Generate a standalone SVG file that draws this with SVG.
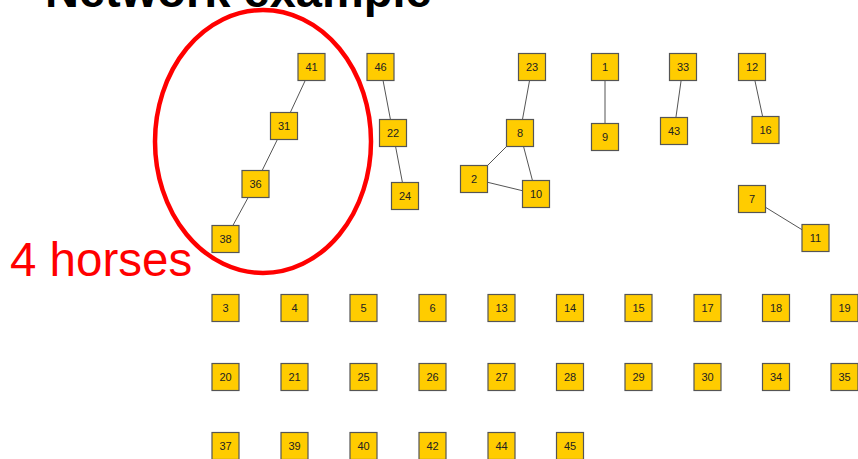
<svg xmlns="http://www.w3.org/2000/svg" width="858" height="459" viewBox="0 0 858 459">
<style>
.n rect{fill:#FFCC00;stroke:#555;stroke-width:1.2}
.n text{font-family:"Liberation Sans",Arial,sans-serif;font-size:11px;fill:#222;text-anchor:middle;dominant-baseline:central}
#edges line{stroke:#555;stroke-width:1}
</style>
<rect width="858" height="459" fill="#fff"/>
<text x="45" y="6.5" font-family="Liberation Sans,Arial,sans-serif" font-weight="bold" font-size="47" fill="#000">Network example</text>
<g id="edges">
<line x1="311.5" y1="67" x2="284" y2="126"/>
<line x1="284" y1="126" x2="255.5" y2="184"/>
<line x1="255.5" y1="184" x2="225.5" y2="239"/>
<line x1="380.5" y1="67" x2="393" y2="133"/>
<line x1="393" y1="133" x2="405" y2="196"/>
<line x1="532" y1="67" x2="520" y2="133"/>
<line x1="520" y1="133" x2="474" y2="179"/>
<line x1="520" y1="133" x2="536" y2="194"/>
<line x1="474" y1="179" x2="536" y2="194"/>
<line x1="605" y1="67" x2="605" y2="137"/>
<line x1="683" y1="67" x2="674" y2="131"/>
<line x1="752" y1="67" x2="765.5" y2="130"/>
<line x1="752" y1="199" x2="815.5" y2="238"/>
</g>
<g id="n41" class="n"><rect x="298" y="53.5" width="27" height="27"/><text x="311.5" y="67">41</text></g>
<g id="n46" class="n"><rect x="367" y="53.5" width="27" height="27"/><text x="380.5" y="67">46</text></g>
<g id="n31" class="n"><rect x="270.5" y="112.5" width="27" height="27"/><text x="284" y="126">31</text></g>
<g id="n22" class="n"><rect x="379.5" y="119.5" width="27" height="27"/><text x="393" y="133">22</text></g>
<g id="n36" class="n"><rect x="242" y="170.5" width="27" height="27"/><text x="255.5" y="184">36</text></g>
<g id="n24" class="n"><rect x="391.5" y="182.5" width="27" height="27"/><text x="405" y="196">24</text></g>
<g id="n38" class="n"><rect x="212" y="225.5" width="27" height="27"/><text x="225.5" y="239">38</text></g>
<g id="n23" class="n"><rect x="518.5" y="53.5" width="27" height="27"/><text x="532" y="67">23</text></g>
<g id="n1" class="n"><rect x="591.5" y="53.5" width="27" height="27"/><text x="605" y="67">1</text></g>
<g id="n33" class="n"><rect x="669.5" y="53.5" width="27" height="27"/><text x="683" y="67">33</text></g>
<g id="n12" class="n"><rect x="738.5" y="53.5" width="27" height="27"/><text x="752" y="67">12</text></g>
<g id="n8" class="n"><rect x="506.5" y="119.5" width="27" height="27"/><text x="520" y="133">8</text></g>
<g id="n9" class="n"><rect x="591.5" y="123.5" width="27" height="27"/><text x="605" y="137">9</text></g>
<g id="n43" class="n"><rect x="660.5" y="117.5" width="27" height="27"/><text x="674" y="131">43</text></g>
<g id="n16" class="n"><rect x="752" y="116.5" width="27" height="27"/><text x="765.5" y="130">16</text></g>
<g id="n2" class="n"><rect x="460.5" y="165.5" width="27" height="27"/><text x="474" y="179">2</text></g>
<g id="n10" class="n"><rect x="522.5" y="180.5" width="27" height="27"/><text x="536" y="194">10</text></g>
<g id="n7" class="n"><rect x="738.5" y="185.5" width="27" height="27"/><text x="752" y="199">7</text></g>
<g id="n11" class="n"><rect x="802" y="224.5" width="27" height="27"/><text x="815.5" y="238">11</text></g>
<g id="n3" class="n"><rect x="212" y="294.5" width="27" height="27"/><text x="225.5" y="308">3</text></g>
<g id="n4" class="n"><rect x="281" y="294.5" width="27" height="27"/><text x="294.5" y="308">4</text></g>
<g id="n5" class="n"><rect x="350" y="294.5" width="27" height="27"/><text x="363.5" y="308">5</text></g>
<g id="n6" class="n"><rect x="419" y="294.5" width="27" height="27"/><text x="432.5" y="308">6</text></g>
<g id="n13" class="n"><rect x="488" y="294.5" width="27" height="27"/><text x="501.5" y="308">13</text></g>
<g id="n14" class="n"><rect x="556.5" y="294.5" width="27" height="27"/><text x="570" y="308">14</text></g>
<g id="n15" class="n"><rect x="625" y="294.5" width="27" height="27"/><text x="638.5" y="308">15</text></g>
<g id="n17" class="n"><rect x="694" y="294.5" width="27" height="27"/><text x="707.5" y="308">17</text></g>
<g id="n18" class="n"><rect x="762.5" y="294.5" width="27" height="27"/><text x="776" y="308">18</text></g>
<g id="n19" class="n"><rect x="831" y="294.5" width="27" height="27"/><text x="844.5" y="308">19</text></g>
<g id="n20" class="n"><rect x="212" y="363.5" width="27" height="27"/><text x="225.5" y="377">20</text></g>
<g id="n21" class="n"><rect x="281" y="363.5" width="27" height="27"/><text x="294.5" y="377">21</text></g>
<g id="n25" class="n"><rect x="350" y="363.5" width="27" height="27"/><text x="363.5" y="377">25</text></g>
<g id="n26" class="n"><rect x="419" y="363.5" width="27" height="27"/><text x="432.5" y="377">26</text></g>
<g id="n27" class="n"><rect x="488" y="363.5" width="27" height="27"/><text x="501.5" y="377">27</text></g>
<g id="n28" class="n"><rect x="556.5" y="363.5" width="27" height="27"/><text x="570" y="377">28</text></g>
<g id="n29" class="n"><rect x="625" y="363.5" width="27" height="27"/><text x="638.5" y="377">29</text></g>
<g id="n30" class="n"><rect x="694" y="363.5" width="27" height="27"/><text x="707.5" y="377">30</text></g>
<g id="n34" class="n"><rect x="762.5" y="363.5" width="27" height="27"/><text x="776" y="377">34</text></g>
<g id="n35" class="n"><rect x="831" y="363.5" width="27" height="27"/><text x="844.5" y="377">35</text></g>
<g id="n37" class="n"><rect x="212" y="432.5" width="27" height="27"/><text x="225.5" y="446">37</text></g>
<g id="n39" class="n"><rect x="281" y="432.5" width="27" height="27"/><text x="294.5" y="446">39</text></g>
<g id="n40" class="n"><rect x="350" y="432.5" width="27" height="27"/><text x="363.5" y="446">40</text></g>
<g id="n42" class="n"><rect x="419" y="432.5" width="27" height="27"/><text x="432.5" y="446">42</text></g>
<g id="n44" class="n"><rect x="488" y="432.5" width="27" height="27"/><text x="501.5" y="446">44</text></g>
<g id="n45" class="n"><rect x="556.5" y="432.5" width="27" height="27"/><text x="570" y="446">45</text></g>
<ellipse cx="263" cy="141.5" rx="108" ry="131.5" fill="none" stroke="#FF0000" stroke-width="4.5"/>
<text x="10" y="276" font-family="Liberation Sans,Arial,sans-serif" font-size="47.5" fill="#FF0000">4 horses</text>
</svg>
